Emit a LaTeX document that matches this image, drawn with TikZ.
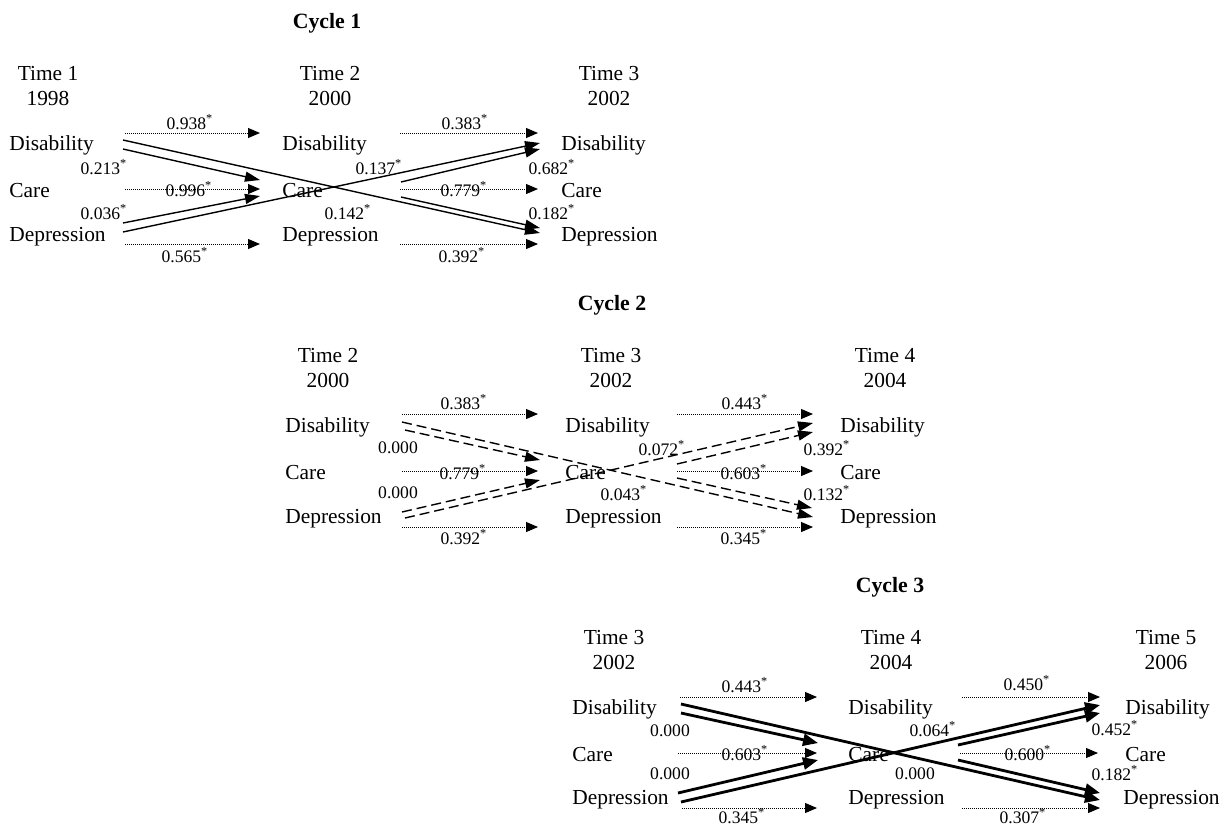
\documentclass[tikz,border=0pt]{standalone}
\usepackage{fontspec}
\setmainfont{Liberation Serif}
\usetikzlibrary{arrows.meta}
\newcommand\myconn[4]{\coordinate (#2s) at #3; \coordinate (#2e) at #4; \draw[#1] (#2s) -- (#2e);}
\newcommand\st{\textsuperscript{*}}
\begin{document}
\begin{tikzpicture}[x=0.5pt,y=-0.5pt,
 lbl/.style={inner sep=0pt,anchor=west,yshift=-1pt,font=\fontsize{10.7}{12.5}\selectfont},
 hdr/.style={inner sep=0pt,align=center,font=\fontsize{10.7}{12.5}\selectfont},
 ttl/.style={inner sep=0pt,font=\fontsize{10.9}{13}\selectfont\bfseries},
 num/.style={inner sep=0pt,font=\fontsize{8.8}{10}\selectfont},
 dotarr/.style={line width=0.5pt,dash pattern=on 0.4pt off 0.6pt,-{Triangle[length=6pt,width=5pt]}},
 solidarr/.style={line width=0.7pt,-{Triangle[length=7.5pt,width=5pt]}},
 dasharr/.style={line width=0.7pt,dash pattern=on 5pt off 2.5pt,-{Triangle[length=7.5pt,width=5pt]}},
 thickarr/.style={line width=1.4pt,-{Triangle[length=7.5pt,width=6pt]}},
]
\useasboundingbox (0,0) rectangle (1220,826);

% ---------------- Cycle 1 ----------------
\node[ttl] (c1t) at (327,23) {Cycle 1};
\node[hdr] (c1h1) at (48,86) {Time 1\\1998};
\node[hdr] (c1h2) at (330,86) {Time 2\\2000};
\node[hdr] (c1h3) at (609,86) {Time 3\\2002};
\node[lbl] (c1dis1) at (9,143) {Disability};
\node[lbl] (c1car1) at (9,189) {Care};
\node[lbl] (c1dep1) at (9,235) {Depression};
\node[lbl] (c1dis2) at (282,143) {Disability};
\node[lbl] (c1car2) at (282,189) {Care};
\node[lbl] (c1dep2) at (282,235) {Depression};
\node[lbl] (c1dis3) at (561,143) {Disability};
\node[lbl] (c1car3) at (561,189) {Care};
\node[lbl] (c1dep3) at (561,235) {Depression};

\myconn{dotarr}{c1a}{(125,133)}{(260,133)}
\myconn{dotarr}{c1b}{(125,189)}{(260,189)}
\myconn{dotarr}{c1c}{(125,244)}{(260,244)}
\myconn{dotarr}{c1d}{(400,133)}{(538,133)}
\myconn{dotarr}{c1e}{(400,189)}{(538,189)}
\myconn{dotarr}{c1f}{(400,244)}{(538,244)}
\myconn{solidarr}{c1g}{(123,149)}{(260,180)}
\myconn{solidarr}{c1h}{(123,223)}{(260,196)}
\myconn{solidarr}{c1i}{(123,140)}{(540,233)}
\myconn{solidarr}{c1j}{(123,232)}{(540,143)}
\myconn{solidarr}{c1k}{(401,182)}{(540,149)}
\myconn{solidarr}{c1l}{(401,197)}{(540,228)}

\node[num] (c1n1) at (190,122) {0.938\st};
\node[num] (c1n2) at (189,189) {0.996\st};
\node[num] (c1n3) at (185,255) {0.565\st};
\node[num] (c1n4) at (104,167) {0.213\st};
\node[num] (c1n5) at (104,212) {0.036\st};
\node[num] (c1n6) at (465,122) {0.383\st};
\node[num] (c1n7) at (464,189) {0.779\st};
\node[num] (c1n8) at (462,255) {0.392\st};
\node[num] (c1n9) at (379,167) {0.137\st};
\node[num] (c1n10) at (348,212) {0.142\st};
\node[num] (c1n11) at (552,167) {0.682\st};
\node[num] (c1n12) at (552,212) {0.182\st};

% ---------------- Cycle 2 ----------------
\node[ttl] (c2t) at (612,305) {Cycle 2};
\node[hdr] (c2h1) at (328,368) {Time 2\\2000};
\node[hdr] (c2h2) at (611,368) {Time 3\\2002};
\node[hdr] (c2h3) at (885,368) {Time 4\\2004};
\node[lbl] (c2dis1) at (285,425) {Disability};
\node[lbl] (c2car1) at (285,471) {Care};
\node[lbl] (c2dep1) at (285,517) {Depression};
\node[lbl] (c2dis2) at (565,425) {Disability};
\node[lbl] (c2car2) at (565,471) {Care};
\node[lbl] (c2dep2) at (565,517) {Depression};
\node[lbl] (c2dis3) at (840,425) {Disability};
\node[lbl] (c2car3) at (840,471) {Care};
\node[lbl] (c2dep3) at (840,517) {Depression};

\myconn{dotarr}{c2a}{(402,414)}{(538,414)}
\myconn{dotarr}{c2b}{(402,471)}{(538,471)}
\myconn{dotarr}{c2c}{(402,527)}{(538,527)}
\myconn{dotarr}{c2d}{(677,414)}{(813,414)}
\myconn{dotarr}{c2e}{(677,471)}{(813,471)}
\myconn{dotarr}{c2f}{(677,527)}{(813,527)}
\myconn{dasharr}{c2g}{(405,430)}{(540,460)}
\myconn{dasharr}{c2h}{(402,512)}{(540,480)}
\myconn{dasharr}{c2i}{(402,422)}{(813,517)}
\myconn{dasharr}{c2j}{(405,518)}{(813,423)}
\myconn{dasharr}{c2k}{(677,464)}{(813,432)}
\myconn{dasharr}{c2l}{(677,478)}{(812,508)}

\node[num] (c2n1) at (464,402) {0.383\st};
\node[num] (c2n2) at (463,472) {0.779\st};
\node[num] (c2n3) at (464,537) {0.392\st};
\node[num] (c2n4) at (398,448) {0.000};
\node[num] (c2n5) at (398,493) {0.000};
\node[num] (c2n6) at (745,402) {0.443\st};
\node[num] (c2n7) at (744,472) {0.603\st};
\node[num] (c2n8) at (744,537) {0.345\st};
\node[num] (c2n9) at (662,448) {0.072\st};
\node[num] (c2n10) at (624,493) {0.043\st};
\node[num] (c2n11) at (827,448) {0.392\st};
\node[num] (c2n12) at (827,493) {0.132\st};

% ---------------- Cycle 3 ----------------
\node[ttl] (c3t) at (890,587) {Cycle 3};
\node[hdr] (c3h1) at (614,650) {Time 3\\2002};
\node[hdr] (c3h2) at (891,650) {Time 4\\2004};
\node[hdr] (c3h3) at (1166,650) {Time 5\\2006};
\node[lbl] (c3dis1) at (572,707) {Disability};
\node[lbl] (c3car1) at (572,753) {Care};
\node[lbl] (c3dep1) at (572,798) {Depression};
\node[lbl] (c3dis2) at (848,707) {Disability};
\node[lbl] (c3car2) at (848,753) {Care};
\node[lbl] (c3dep2) at (848,798) {Depression};
\node[lbl] (c3dis3) at (1125,707) {Disability};
\node[lbl] (c3car3) at (1125,753) {Care};
\node[lbl] (c3dep3) at (1123,798) {Depression};

\myconn{dotarr}{c3a}{(680,697)}{(817,697)}
\myconn{dotarr}{c3b}{(678,753)}{(817,753)}
\myconn{dotarr}{c3c}{(682,808)}{(817,808)}
\myconn{dotarr}{c3d}{(962,697)}{(1100,697)}
\myconn{dotarr}{c3e}{(960,753)}{(1098,753)}
\myconn{dotarr}{c3f}{(962,808)}{(1100,808)}
\myconn{thickarr}{c3g}{(681,713)}{(818,743)}
\myconn{thickarr}{c3h}{(678,793)}{(818,760)}
\myconn{thickarr}{c3i}{(681,704)}{(1100,800)}
\myconn{thickarr}{c3j}{(681,802)}{(1100,705)}
\myconn{thickarr}{c3k}{(958,745)}{(1100,713)}
\myconn{thickarr}{c3l}{(958,760)}{(1100,793)}

\node[num] (c3n1) at (745,685) {0.443\st};
\node[num] (c3n2) at (745,753) {0.603\st};
\node[num] (c3n3) at (742,816) {0.345\st};
\node[num] (c3n4) at (670,731) {0.000};
\node[num] (c3n5) at (670,774) {0.000};
\node[num] (c3n6) at (933,729) {0.064\st};
\node[num] (c3n7) at (915,774) {0.000};
\node[num] (c3n8) at (1027,683) {0.450\st};
\node[num] (c3n9) at (1028,753) {0.600\st};
\node[num] (c3n10) at (1023,816) {0.307\st};
\node[num] (c3n11) at (1115,728) {0.452\st};
\node[num] (c3n12) at (1115,773) {0.182\st};
\end{tikzpicture}
\end{document}
